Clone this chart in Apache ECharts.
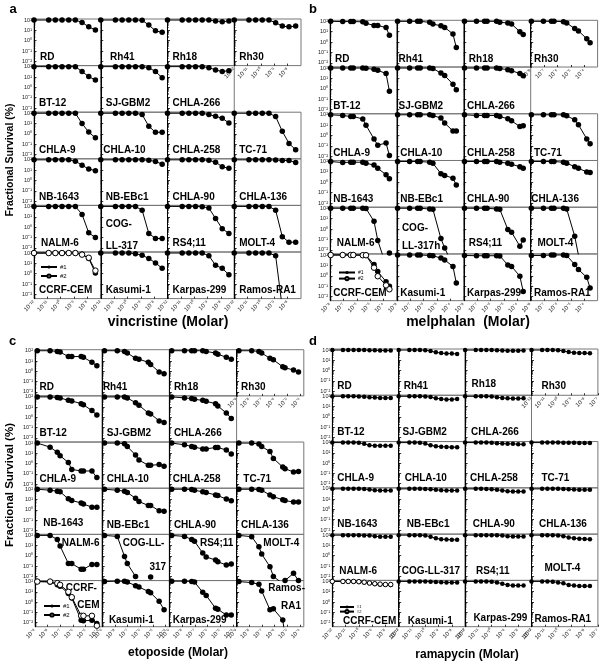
<!DOCTYPE html>
<html><head><meta charset="utf-8">
<script src="https://cdn.jsdelivr.net/npm/echarts@6/dist/echarts.min.js"></script>
<style>html,body{margin:0;padding:0;background:#fff}#c{width:603px;height:667px}</style>
</head><body><div id="c"></div>
<script>
// ---------- DATA ----------
// log10 of drug concentration (Molar) for each tested point
const vincristineLogM = [-12, -10.9, -10.4, -9.9, -9.4, -8.9, -8.4, -7.9, -7.4];
const melphalanLogM   = [-7.95, -7.05, -6.45, -6.26, -5.55, -5.31, -4.71, -4.43, -3.81, -3.56];
const etoposideLogM   = [-8.82, -7.81, -7.24, -7.02, -6.37, -6.10, -5.36, -5.18, -4.51, -4.12];
const rapamycinLogM   = [-12, -11.2, -10.8, -10.4, -10.0, -9.6, -9.2, -8.8, -8.4, -8.0, -7.6];

const cellLinesA = ['RD','Rh41','Rh18','Rh30','BT-12','SJ-GBM2','CHLA-266',null,'CHLA-9','CHLA-10','CHLA-258','TC-71','NB-1643','NB-EBc1','CHLA-90','CHLA-136','NALM-6','COG-LL-317','RS4;11','MOLT-4','CCRF-CEM','Kasumi-1','Karpas-299','Ramos-RA1'];
const cellLinesB = ['RD','Rh41','Rh18','Rh30','BT-12','SJ-GBM2','CHLA-266',null,'CHLA-9','CHLA-10','CHLA-258','TC-71','NB-1643','NB-EBc1','CHLA-90','CHLA-136','NALM-6','COG-LL-317h','RS4;11','MOLT-4','CCRF-CEM','Kasumi-1','Karpas-299','Ramos-RA1'];

const yTickExponents = [-2, -1, 0, 1, 2];
const xTickExponentsA = [-12, -11, -10, -9, -8];
const xTickExponentsB = [-8, -7, -6, -5, -4];
const xTickExponentsC = [-9, -8, -7, -6, -5, -4];
const xTickExponentsD = [-12, -11, -10, -9, -8, -7];

// fractional survival (%) - vincristine
const a_RD = [100,100,100,100,100,100,59,22,11];
const a_Rh41 = [100,100,100,100,100,95,33,9,6.5];
const a_Rh18 = [100,100,100,100,100,100,80,70,80];
const a_Rh30 = [100,100,100,100,100,55,26,22,26];
const a_BT12 = [100,100,100,100,100,100,33,11,5];
const a_SJGBM2 = [100,100,100,100,100,100,80,33,8.6];
const a_CHLA266 = [100,100,100,100,100,80,48,33,41];
const a_CHLA9 = [100,100,100,100,100,100,10,1.5,0.42];
const a_CHLA10 = [100,100,100,100,100,74,5.5,1.45,1.45];
const a_CHLA258 = [100,100,100,100,100,74,51,33,11.5];
const a_TC71 = [100,100,100,100,100,48,1.8,0.12,0.03];
const a_NB1643 = [100,100,100,100,100,75,30,13,9];
const a_NBEBc1 = [100,100,100,100,100,100,90,70,38];
const a_CHLA90 = [100,100,100,100,100,90,59,22,15];
const a_CHLA136 = [100,100,100,100,100,95,88,85,55];
const a_NALM6 = [100,100,100,100,100,100,17,0.28,0.1];
const a_COG = [100,100,100,100,100,43,0.25,0.08,0.08];
const a_RS411 = [100,100,100,100,95,70,7,0.7,0.25];
const a_MOLT4 = [100,100,100,100,100,43,0.12,0.035,0.035];
const a_CCRF1 = [100,100,100,100,100,100,75,30,1.2];
const a_CCRF2 = [100,100,100,100,100,100,70,35,2];
const a_Kasumi1 = [100,100,100,100,87,60,30,11,3.4];
const a_Karpas299 = [100,100,100,100,100,56,6.5,3.4,0.8];
const a_RamosRA1 = [100,100,100,100,100,56,0.0005];

// melphalan
const b_RD = [100,95,95,95,90,65,40,40,25,4.5];
const b_Rh41 = [100,100,100,100,80,55,37,26,6,0.3];
const b_Rh18 = [100,100,100,100,100,80,70,55,10,5.5];
const b_Rh30 = [100,100,100,100,93,69,20,12,2.1,0.85];
const b_BT12 = [100,100,100,100,100,95,75,60,30,0.6];
const b_SJGBM2 = [100,100,100,100,100,90,33,19,2.8,0.8];
const b_CHLA266 = [100,100,100,100,100,90,70,55,30,18];
const b_CHLA9 = [100,86,68,68,40,10,0.47,0.12,0.19,0.012];
const b_CHLA10 = [100,100,100,100,100,86,48,16,2.8,2.8];
const b_CHLA258 = [100,86,86,86,86,69,41,26,7.4,8.6];
const b_TC71 = [100,100,100,100,100,80,33,11,0.48,0.16];
const b_NB1643 = [100,80,86,86,86,68,46,22,5.4,2.2];
const b_NBEBc1 = [100,100,100,100,86,68,6.8,4.6,2.5,0.55];
const b_CHLA90 = [100,100,100,100,100,86,68,54,32,22];
const b_CHLA136 = [100,100,100,100,86,68,32,22,10,8.6];
const b_NALM6 = [100,100,100,100,100,95,5.5,0.08,0.0003,0.005];
const b_COG = [100,100,100,100,85,80,0.12,0.015,0.0003];
const b_RS411 = [100,100,100,100,85,80,0.9,0.5,0.022,0.09];
const b_MOLT4 = [100,100,100,100,100,85,0.2,0.003];
const b_CCRF1 = [100,100,100,100,95,95,12,2.5,0.27,0.1];
const b_CCRF2 = [100,100,100,100,95,95,6,0.9,0.12,0.05];
const b_Kasumi1 = [100,100,100,100,90,85,50,33,8,0.2];
const b_Karpas299 = [90,85,85,85,85,82,11,8,0.9,0.03];
const b_RamosRA1 = [90,90,100,100,100,90,12,4,0.7,0.065];

// etoposide
const c_RD = [100,100,85,74,27,27,27,23,7.4,3.4];
const c_Rh41 = [100,100,85,60,18,15,7.4,4.6,0.85,0.58];
const c_Rh18 = [100,100,100,100,100,85,60,46,23,15];
const c_Rh30 = [100,100,85,60,18,13,2.7,2.2,1.3,0.85];
const c_BT12 = [100,100,86,80,46,40,22,17,4.6,1.7];
const c_SJGBM2 = [100,100,100,80,27,15,2.7,2.2,0.46,0.32];
const c_CHLA266 = [100,80,68,58,46,37,22,13,2.7,0.8];
const c_CHLA9 = [100,40,12.6,5.9,1.26,0.27,0.19,0.19,0.19,0.043];
const c_CHLA10 = [100,100,86,46,6.8,2.2,0.68,0.68,0.8,0.54];
const c_CHLA258 = [100,68,46,40,27,27,37,37,21,8.6];
const c_TC71 = [100,100,80,46,15,3.2,0.46,0.32,0.15,0.17];
const c_NB1643 = [100,80,65,56,11.5,8,4.6,3.6,1.8,1.8];
const c_NBEBc1 = [100,80,65,49,13,6.3,2.6,2.6,0.8,0.7];
const c_CHLA90 = [100,100,93,80,56,49,27,24,11,7.5];
const c_CHLA136 = [100,100,93,80,27,19,9.3,8,5.6,5.6];
const c_NALM6 = [100,100,40,9.3,0.18,0.18,0.05,0.05,0.15,0.15];
const c_COG = [100,80,0.9,0.18,0.01,null,null,0.009];
const c_RS411 = [100,80,40,27,1.9,0.8,0.39,0.27,0.13,0.16];
const c_MOLT4 = [100,75,7.7,1.5,0.09,0.01,0.002,0.004,0.02,0.004];
const c_CCRF1 = [100,90,50,35,7,2.5,0.017,0.015,0.017,0.008];
const c_CCRF2 = [100,100,70,48,10,3,0.046,0.046,0.046,0.005];
const c_Kasumi1 = [100,110,105,90,40,29,11,8,1.2,0.18];
const c_Karpas299 = [110,110,100,90,9,4.5,0.25,0.2,0.055,0.055];
const c_RamosRA1 = [100,80,55,12,0.18,0.22,0.018,0.0005];

// rapamycin
const d_RD = [100,100,100,100,100,100,95,95,90,90,90];
const d_Rh41 = [100,100,100,100,95,80,60,50,45,45,42];
const d_Rh18 = [100,100,100,100,100,95,90,85,85,85,90];
const d_Rh30 = [100,100,100,100,95,80,65,55,50,50,48];
const d_BT12 = [100,100,100,100,95,90,80,75,70,70,70];
const d_SJGBM2 = [100,100,100,100,95,85,65,55,50,50,55];
const d_CHLA266 = [100,100,100,100,95,80,70,65,60,60,65];
const d_CHLA9 = [100,100,100,100,95,75,55,50,50,50,50];
const d_CHLA10 = [100,100,100,95,80,55,45,40,38,36,36];
const d_CHLA258 = [100,100,100,100,95,85,80,75,75,70,70];
const d_TC71 = [100,100,100,100,100,95,95,95,90,90,90];
const d_NB1643 = [100,100,100,100,100,95,85,75,70,70,70];
const d_NBEBc1 = [100,100,100,100,95,90,80,75,70,70,70];
const d_CHLA90 = [100,100,100,95,90,80,70,60,55,55,55];
const d_CHLA136 = [100,100,100,100,100,95,90,85,80,80,80];
const d_NALM6 = [100,100,100,100,100,95,90,80,70,70,70];
const d_COG = [100,100,100,100,90,70,50,40,38,35,35];
const d_RS411 = [100,100,100,100,100,100,90,80,75,75,75];
const d_MOLT4 = [100,100,100,100,95,80,60,50,45,42,40];
const d_CCRF1 = [100,100,100,95,90,80,65,55,50,48,45];
const d_CCRF2 = [100,100,100,100,95,85,70,60,55,50,50];
const d_Kasumi1 = [100,100,100,100,100,95,90,85,80,80,80];
const d_Karpas299 = [100,100,100,100,95,80,60,45,40,40,40];
const d_RamosRA1 = [100,100,100,95,80,65,45,40,35,35,35];

const survA = [a_RD,a_Rh41,a_Rh18,a_Rh30,a_BT12,a_SJGBM2,a_CHLA266,null,a_CHLA9,a_CHLA10,a_CHLA258,a_TC71,a_NB1643,a_NBEBc1,a_CHLA90,a_CHLA136,a_NALM6,a_COG,a_RS411,a_MOLT4,a_CCRF1,a_Kasumi1,a_Karpas299,a_RamosRA1];
const survB = [b_RD,b_Rh41,b_Rh18,b_Rh30,b_BT12,b_SJGBM2,b_CHLA266,null,b_CHLA9,b_CHLA10,b_CHLA258,b_TC71,b_NB1643,b_NBEBc1,b_CHLA90,b_CHLA136,b_NALM6,b_COG,b_RS411,b_MOLT4,b_CCRF1,b_Kasumi1,b_Karpas299,b_RamosRA1];
const survC = [c_RD,c_Rh41,c_Rh18,c_Rh30,c_BT12,c_SJGBM2,c_CHLA266,null,c_CHLA9,c_CHLA10,c_CHLA258,c_TC71,c_NB1643,c_NBEBc1,c_CHLA90,c_CHLA136,c_NALM6,c_COG,c_RS411,c_MOLT4,c_CCRF1,c_Kasumi1,c_Karpas299,c_RamosRA1];
const survD = [d_RD,d_Rh41,d_Rh18,d_Rh30,d_BT12,d_SJGBM2,d_CHLA266,null,d_CHLA9,d_CHLA10,d_CHLA258,d_TC71,d_NB1643,d_NBEBc1,d_CHLA90,d_CHLA136,d_NALM6,d_COG,d_RS411,d_MOLT4,d_CCRF1,d_Kasumi1,d_Karpas299,d_RamosRA1];

// ---------- LAYOUT / STYLE ----------
const FF = '"Liberation Sans", Arial, Helvetica, sans-serif';
const Y_MIN = -2.4, Y_MAX = 2.1;
const SUP = {'-':'⁻','0':'⁰','1':'¹','2':'²','3':'³','4':'⁴','5':'⁵','6':'⁶','7':'⁷','8':'⁸','9':'⁹'};
const pow10 = n => '10' + String(n).split('').map(ch => SUP[ch]).join('');
const yMinor = [];
for (let n = -3; n <= 2; n++) for (let k = 2; k <= 9; k++) { const v = n + Math.log10(k); if (v > Y_MIN && v < Y_MAX) yMinor.push(v); }

const panels = [
  { letter:'a', letterPos:[13,9], left:34, top:19, w:66.75, h:46.6, xMin:-12, xMax:-7, xTicks:xTickExponentsA,
    x:vincristineLogM, names:cellLinesA, surv:survA, second:a_CCRF2, sym:5.5,
    title:'vincristine (Molar)', titlePos:[168,322], titleSize:14, yTitle:{pos:[10,160], size:10.5},
    legend:{left:40, top:264, gap:3, font:6, w:16},
    lab:{dx:5, dy:8.5, ov:{0:[6],1:[9.3],9:[2.6],16:[7]},
         special:{17:[{t:'COG-',x:5,y:18.5},{t:'LL-317',x:5,y:41}]}} },
  { letter:'b', letterPos:[313,9], left:330, top:20.3, w:66.9, h:46.73, xMin:-8, xMax:-3, xTicks:xTickExponentsB,
    x:melphalanLogM, names:cellLinesB, surv:survB, second:b_CCRF2, sym:5.5,
    title:'melphalan  (Molar)', titlePos:[468,322], titleSize:14, yTitle:null,
    legend:{left:338, top:270, gap:1, font:5, w:16},
    lab:{dx:3.3, dy:7.5, ov:{0:[5],1:[1.7],2:[5],5:[1.7],15:[0.5],16:[6.7,11],18:[5,10.7],19:[6.7,11]},
         special:{17:[{t:'COG-',x:5,y:21},{t:'LL-317h',x:5,y:39}]}} },
  { letter:'c', letterPos:[12.5,341], left:35, top:349.7, w:67.2, h:46.17, xMin:-9, xMax:-3.7, xTicks:xTickExponentsC,
    x:etoposideLogM, names:cellLinesA, surv:survC, second:c_CCRF2, sym:5.5,
    title:'etoposide (Molar)', titlePos:[178,653], titleSize:12, yTitle:{pos:[10,485], size:11.5},
    legend:{left:43, top:603, gap:3, font:6, w:16},
    lab:{dx:4.5, dy:9, ov:{1:[0.7],10:[3.3],11:[6.7],12:[8.3,10.7],21:[6.7,6.7],22:[3.3,6.7]},
         special:{
           16:[{t:'NALM-6',x:-2.7,y:9,right:true}],
           17:[{t:'COG-LL-',x:-5,y:9,right:true},{t:'317',x:-3.3,y:33,right:true}],
           18:[{t:'RS4;11',x:-3.3,y:9,right:true}],
           19:[{t:'MOLT-4',x:26.7,y:9}],
           20:[{t:'CCRF-',x:-5.3,y:7.5,right:true},{t:'CEM',x:-2.7,y:25,right:true}],
           23:[{t:'Ramos-',x:31.7,y:8},{t:'RA1',x:-2.7,y:26,right:true}]
         }} },
  { letter:'d', letterPos:[313,341], left:332.3, top:349, w:66.4, h:46.28, xMin:-12, xMax:-7, xTicks:xTickExponentsD,
    x:rapamycinLogM, names:cellLinesA, surv:survD, second:d_CCRF2, sym:4.5,
    title:'ramapycin (Molar)', titlePos:[467,655], titleSize:12, yTitle:null,
    legend:{left:339, top:605, gap:0, font:4, w:14},
    lab:{dx:5, dy:9.5, ov:{2:[6.5,11.4],3:[10],5:[3.7],6:[6],9:[6],11:[10],13:[8],14:[7.6],15:[7.6],16:[7],17:[3],18:[11],19:[13,11.7],20:[10.7,5],21:[9,5],22:[8.3,8.4],23:[3,7.7]}} }
];

const option = { animation:false, grid:[], xAxis:[], yAxis:[], series:[], legend:[], graphic:[] };
const txt = (t, x, y, font, align, rot) => ({
  type:'text', x, y, rotation: rot || 0, silent:true,
  style:{ text:t, font, fill:'#000', align, verticalAlign:'middle', textAlign:align, textVerticalAlign:'middle' }
});

panels.forEach(p => {
  for (let i = 0; i < 24; i++) {
    const name = p.names[i];
    if (!name) continue;
    const r = Math.floor(i / 4), c = i % 4;
    const gl = p.left + c * p.w, gt = p.top + r * p.h;
    const gi = option.grid.length;
    option.grid.push({ left:gl, top:gt, width:p.w, height:p.h, show:true, borderColor:'#777', borderWidth:1, backgroundColor:'transparent' });
    const labeled = (r === 5) || (r === 0 && c === 3);
    option.xAxis.push({
      gridIndex:gi, type:'value', min:p.xMin, max:p.xMax, interval:1,
      axisLine:{ show:false, onZero:false }, splitLine:{ show:false },
      axisTick:{ show:labeled, inside:true, length:2, customValues:p.xTicks, lineStyle:{ color:'#000', width:0.8 } },
      axisLabel:{ show:labeled, customValues:p.xTicks, rotate:45, fontSize:6, margin:3, color:'#222', fontFamily:FF, formatter: v => pow10(Math.round(v)) }
    });
    const yi = option.yAxis.length;
    option.yAxis.push({
      gridIndex:gi, type:'value', position:'left', min:Y_MIN, max:Y_MAX,
      axisLine:{ show:true, onZero:false, lineStyle:{ color:'#000', width:1 } }, splitLine:{ show:false },
      axisTick:{ show:true, inside:true, length:2.5, customValues:yTickExponents, lineStyle:{ color:'#000', width:0.8 } },
      axisLabel:{ show:c === 0, customValues:yTickExponents, fontSize:5.5, margin:2, color:'#222', fontFamily:FF, formatter: v => pow10(Math.round(v)) }
    });
    option.yAxis.push({
      gridIndex:gi, type:'value', position:'left', offset:0, min:Y_MIN, max:Y_MAX,
      axisLine:{ show:false, onZero:false }, splitLine:{ show:false },
      axisTick:{ show:true, inside:true, length:1.3, customValues:yMinor, lineStyle:{ color:'#000', width:0.6 } },
      axisLabel:{ show:false }
    });
    const mk = vals => p.x.map((xv, j) => { const v = vals[j]; return (v == null) ? [xv, '-'] : [xv, Math.log10(v)]; });
    const isCCRF = (i === 20);
    option.series.push({
      type:'line', name: isCCRF ? '#1' : name, xAxisIndex:gi, yAxisIndex:yi, data: mk(p.surv[i]),
      symbol:'circle', symbolSize:p.sym, clip:true, silent:true,
      lineStyle:{ color:'#000', width:1 }, itemStyle:{ color:'#000' }
    });
    if (isCCRF) {
      option.series.push({
        type:'line', name:'#2', xAxisIndex:gi, yAxisIndex:yi, data: mk(p.second),
        symbol:'circle', symbolSize:p.sym, clip:true, silent:true,
        lineStyle:{ color:'#000', width:1 }, itemStyle:{ color:'#fff', borderColor:'#000', borderWidth:1 }
      });
    }
    // cell name labels
    const sp = p.lab.special && p.lab.special[i];
    if (sp) {
      sp.forEach(s => {
        const x = s.right ? gl + p.w + s.x : gl + s.x;
        option.graphic.push(txt(s.t, x, gt + s.y, 'bold 10px ' + FF, s.right ? 'right' : 'left'));
      });
    } else {
      const ov = p.lab.ov[i] || [];
      const dx = ov[0] != null ? ov[0] : p.lab.dx;
      const dy = ov[1] != null ? ov[1] : p.lab.dy;
      option.graphic.push(txt(name, gl + dx, gt + p.h - dy, 'bold 10px ' + FF, 'left'));
    }
  }
  option.legend.push({
    left:p.legend.left, top:p.legend.top, orient:'vertical', padding:0, itemGap:p.legend.gap,
    itemWidth:p.legend.w, itemHeight:4, selectedMode:false, data:['#1','#2'],
    textStyle:{ fontSize:p.legend.font, color:'#000', fontFamily:FF, padding:[0,0,0,-2] }
  });
  option.graphic.push(txt(p.letter, p.letterPos[0], p.letterPos[1], 'bold 13px ' + FF, 'center'));
  option.graphic.push(txt(p.title, p.titlePos[0], p.titlePos[1], 'bold ' + p.titleSize + 'px ' + FF, 'center'));
  if (p.yTitle) option.graphic.push(txt('Fractional Survival (%)', p.yTitle.pos[0], p.yTitle.pos[1], 'bold ' + p.yTitle.size + 'px ' + FF, 'center', Math.PI / 2));
});

const chart = echarts.init(document.getElementById('c'), null, { renderer:'canvas' });
chart.setOption(option);
</script>
</body></html>
